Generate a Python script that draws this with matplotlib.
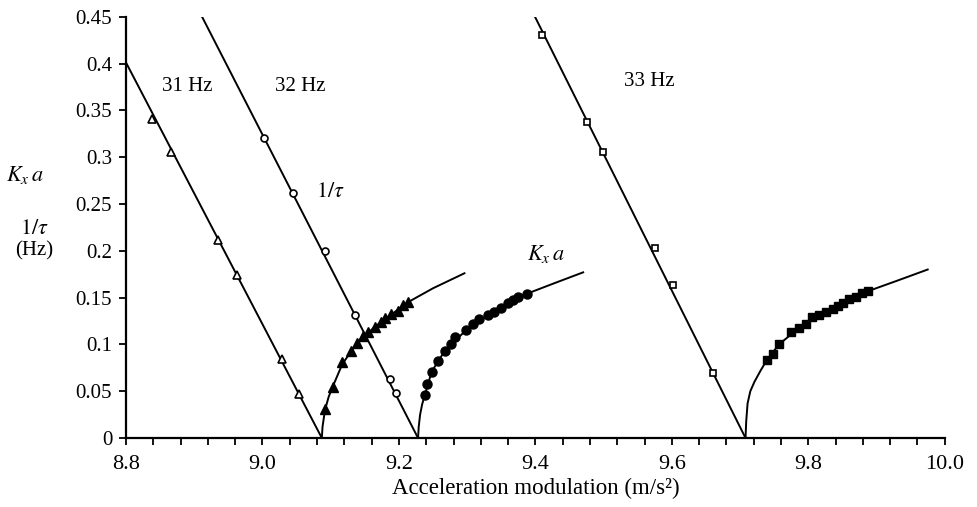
import matplotlib
matplotlib.use("Agg")
import matplotlib.pyplot as plt
from matplotlib.ticker import MultipleLocator, FormatStrFormatter, FuncFormatter

plt.rcParams['font.family'] = ['Liberation Serif', 'DejaVu Serif']
plt.rcParams['mathtext.fontset'] = 'stix'

# 1/tau (open markers) and their straight fit lines
tau31_x = [8.838, 8.866, 8.935, 8.963, 9.028, 9.053]
tau31_y = [0.341, 0.305, 0.211, 0.174, 0.084, 0.047]
tau31_line_x = [8.800, 9.087]
tau31_line_y = [0.401, 0.0]

tau32_x = [9.002, 9.045, 9.091, 9.135, 9.187, 9.195]
tau32_y = [0.321, 0.262, 0.200, 0.131, 0.063, 0.048]
tau32_line_x = [8.910, 9.228]
tau32_line_y = [0.452, 0.0]

tau33_x = [9.410, 9.476, 9.499, 9.575, 9.601, 9.661]
tau33_y = [0.431, 0.338, 0.305, 0.203, 0.163, 0.069]
tau33_line_x = [9.398, 9.708]
tau33_line_y = [0.452, 0.0]

# K_x a (filled markers) and their fitted curves
k31_x = [9.092, 9.103, 9.117, 9.129, 9.139, 9.148, 9.155, 9.165, 9.173, 9.179,
         9.189, 9.199, 9.206, 9.213]
k31_y = [0.031, 0.055, 0.081, 0.093, 0.102, 0.109, 0.113, 0.119, 0.124, 0.128,
         0.132, 0.136, 0.142, 0.145]
k31_curve_x = [9.087, 9.088, 9.090, 9.092, 9.097, 9.103, 9.117, 9.139, 9.165,
               9.189, 9.213, 9.250, 9.296]
k31_curve_y = [0.0, 0.012, 0.022, 0.031, 0.044, 0.055, 0.079, 0.102, 0.119,
               0.132, 0.145, 0.160, 0.176]

k32_x = [9.238, 9.241, 9.248, 9.257, 9.267, 9.277, 9.282, 9.298, 9.308, 9.318,
         9.330, 9.340, 9.350, 9.360, 9.367, 9.374, 9.387]
k32_y = [0.046, 0.058, 0.071, 0.082, 0.093, 0.100, 0.108, 0.115, 0.122, 0.127,
         0.131, 0.135, 0.139, 0.144, 0.147, 0.151, 0.154]
k32_curve_x = [9.228, 9.229, 9.231, 9.234, 9.238, 9.248, 9.267, 9.298, 9.330,
               9.360, 9.387, 9.430, 9.470]
k32_curve_y = [0.0, 0.012, 0.025, 0.036, 0.046, 0.071, 0.093, 0.115, 0.131,
               0.144, 0.154, 0.166, 0.177]

k33_x = [9.739, 9.748, 9.757, 9.775, 9.787, 9.797, 9.805, 9.816, 9.826, 9.836,
         9.844, 9.851, 9.860, 9.870, 9.879, 9.888]
k33_y = [0.083, 0.090, 0.100, 0.113, 0.118, 0.122, 0.129, 0.131, 0.135, 0.138,
         0.141, 0.144, 0.149, 0.151, 0.155, 0.157]
k33_curve_x = [9.708, 9.709, 9.711, 9.715, 9.721, 9.730, 9.739, 9.757, 9.787,
               9.816, 9.844, 9.870, 9.888, 9.930, 9.975]
k33_curve_y = [0.0, 0.018, 0.037, 0.050, 0.060, 0.072, 0.083, 0.100, 0.118,
               0.131, 0.141, 0.151, 0.157, 0.168, 0.180]

freq_labels = ['31 Hz', '32 Hz', '33 Hz']
freq_label_x = [8.889, 9.056, 9.567]
freq_label_y = [0.376, 0.376, 0.381]

fig = plt.figure(figsize=(9.77, 5.07), dpi=100)
ax = fig.add_axes([0.129, 0.136, 0.838, 0.831])

lw = 1.4
for lx, ly in [(tau31_line_x, tau31_line_y), (tau32_line_x, tau32_line_y),
               (tau33_line_x, tau33_line_y)]:
    ax.plot(lx, ly, color='black', lw=lw, solid_capstyle='butt')
for cx, cy in [(k31_curve_x, k31_curve_y), (k32_curve_x, k32_curve_y),
               (k33_curve_x, k33_curve_y)]:
    ax.plot(cx, cy, color='black', lw=lw)

open_kw = dict(ls='none', mfc='white', mec='black', mew=1.2, zorder=3)
ax.plot(tau31_x, tau31_y, marker='^', ms=5.5, **open_kw)
ax.plot(tau32_x, tau32_y, marker='o', ms=5, **open_kw)
ax.plot(tau33_x, tau33_y, marker='s', ms=5, **open_kw)

fill_kw = dict(ls='none', color='black', zorder=3)
ax.plot(k31_x, k31_y, marker='^', ms=6.5, **fill_kw)
ax.plot(k32_x, k32_y, marker='o', ms=6.5, **fill_kw)
ax.plot(k33_x, k33_y, marker='s', ms=5.5, **fill_kw)

for t, x, y in zip(freq_labels, freq_label_x, freq_label_y):
    ax.text(x, y, t, fontsize=15, ha='center', va='center')
ax.text(9.100, 0.262, r'$1/\tau$', fontsize=16, ha='center', va='center')
ax.text(9.416, 0.197, r'$K_x\,a$', fontsize=16, ha='center', va='center')

fig.text(25 / 977, 1 - 175 / 507, r'$K_x\,a$', fontsize=16, ha='center', va='center')
fig.text(34 / 977, 1 - 230 / 507, r'$1/\tau$', fontsize=16, ha='center', va='center')
fig.text(34 / 977, 1 - 251 / 507, '(Hz)', fontsize=15, ha='center', va='center')

ax.set_xlim(8.8, 10.0)
ax.set_ylim(0, 0.45)
ax.xaxis.set_major_locator(MultipleLocator(0.2))
ax.xaxis.set_minor_locator(MultipleLocator(0.04))
ax.xaxis.set_major_formatter(FormatStrFormatter('%.1f'))
ax.yaxis.set_major_locator(MultipleLocator(0.05))
ax.yaxis.set_major_formatter(FuncFormatter(lambda v, p: '%g' % round(v, 2)))
ax.tick_params(which='both', direction='out', length=5, width=1.3)
ax.tick_params(axis='y', labelsize=15, pad=5)
ax.tick_params(axis='x', labelsize=16, pad=7)
for s in ['top', 'right']:
    ax.spines[s].set_visible(False)
for s in ['left', 'bottom']:
    ax.spines[s].set_linewidth(1.6)

ax.set_xlabel('Acceleration modulation (m/s²)', fontsize=16.5, labelpad=3)

fig.savefig('out.png', dpi=100)
